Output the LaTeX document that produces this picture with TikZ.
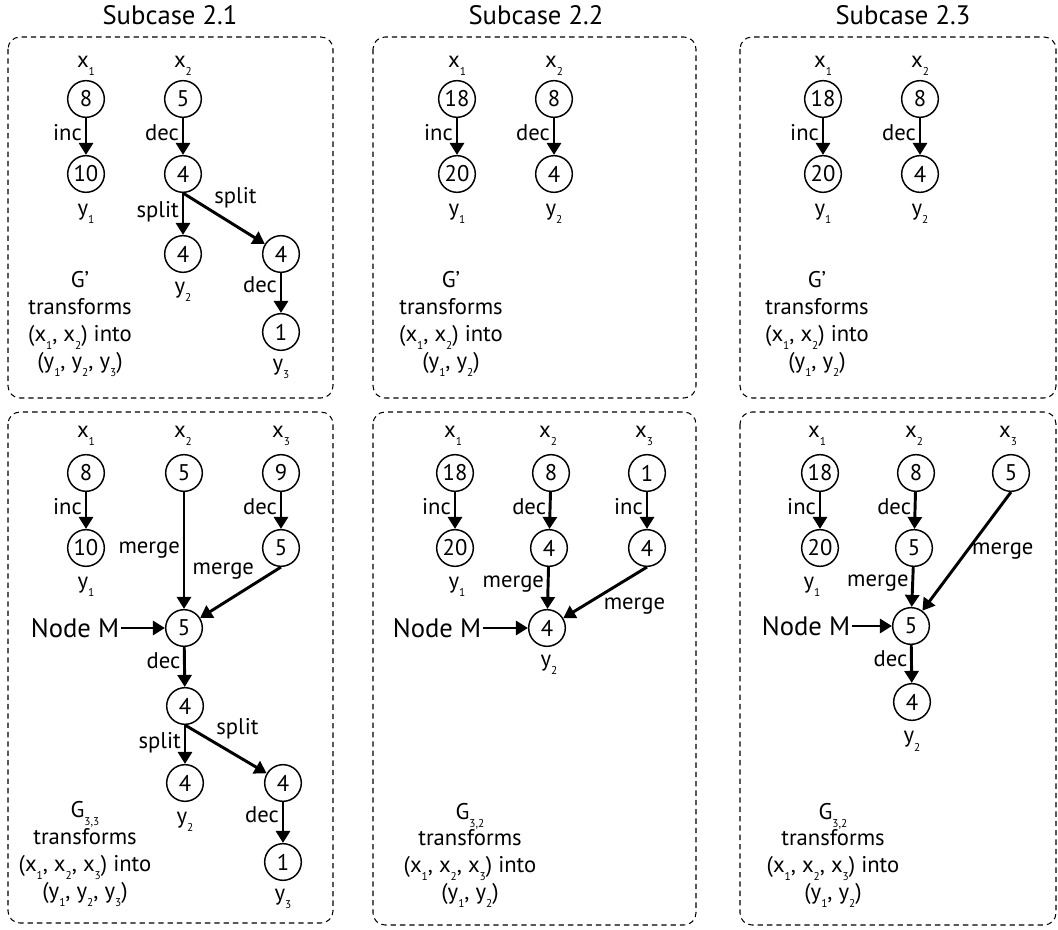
\documentclass[tikz,border=0pt]{standalone}
\usepackage{fontspec}
\setmainfont{PT Sans}
\usetikzlibrary{arrows.meta}
\newcommand\lo[1]{\raisebox{-6pt}{\fontsize{8.5}{9}\selectfont #1}}
\begin{document}
\begin{tikzpicture}[x=0.75pt,y=-0.75pt,
  every node/.style={font=\fontsize{17}{20}\selectfont},
  num/.style={circle,draw,line width=1.1pt,minimum size=27.5pt,inner sep=0pt},
  lab/.style={anchor=base,inner sep=0pt},
  ttl/.style={anchor=base,inner sep=0pt,font=\fontsize{20}{24}\selectfont},
  nm/.style={font=\fontsize{20}{24}\selectfont,inner sep=1pt},
  panel/.style={draw,dash pattern=on 4pt off 3pt,line width=0.8pt,rounded corners=9pt},
  arr/.style={line width=2.2pt,-{Triangle[length=9pt,width=10.5pt]}},
  el/.style={inner sep=2pt}
]
\useasboundingbox (0,0) rectangle (1058,930);

% ---------- titles ----------
\node[ttl] (t1) at (170,25) {Subcase 2.1};
\node[ttl] (t2) at (536,25) {Subcase 2.2};
\node[ttl] (t3) at (903,25) {Subcase 2.3};

% ---------- panel boxes ----------
\draw[panel] (8,37) rectangle (333,398);
\draw[panel] (373,37) rectangle (696,398);
\draw[panel] (740,37) rectangle (1056,398);
\draw[panel] (8,412) rectangle (333,923);
\draw[panel] (373,412) rectangle (696,925);
\draw[panel] (740,412) rectangle (1056,925);

% ================= Panel A (Subcase 2.1, top) =================
\node[lab] (ax1) at (86,68) {x\lo1};
\node[lab] (ax2) at (183,68) {x\lo2};
\node[num] (a1) at (86,99) {8};
\node[num] (a2) at (86,174) {10};
\node[lab] (ay1) at (86,216) {y\lo1};
\node[num] (a3) at (183,99) {5};
\node[num] (a4) at (183,174) {4};
\node[num] (a5) at (183,254) {4};
\node[lab] (ay2) at (183,294) {y\lo2};
\node[num] (a6) at (281,254) {4};
\node[num] (a7) at (281,332) {1};
\node[lab] (ay3) at (281,371) {y\lo3};
\draw[arr] (a1) -- node[el,left,pos=0.4]{inc} (a2);
\draw[arr] (a3) -- node[el,left,pos=0.4]{dec} (a4);
\draw[arr] (a4) -- node[el,left,pos=0.45]{split} (a5);
\draw[arr] (a4.south) -- node[el,above right,pos=0.35,inner sep=1pt]{split} (a6);
\draw[arr] (a6) -- node[el,left,pos=0.3]{dec} (a7);
\node[lab] (ag1) at (80,288) {G’};
\node[lab] (ag2) at (80,315) {transforms};
\node[lab] (ag3) at (80,342) {(x\lo1, x\lo2) into};
\node[lab] (ag4) at (80,369) {(y\lo1, y\lo2, y\lo3)};

% ================= Panel B (Subcase 2.2, top) =================
\node[lab] (bx1) at (457,68) {x\lo1};
\node[lab] (bx2) at (554,68) {x\lo2};
\node[num] (b1) at (457,99) {18};
\node[num] (b2) at (457,174) {20};
\node[lab] (by1) at (457,216) {y\lo1};
\node[num] (b3) at (554,99) {8};
\node[num] (b4) at (554,174) {4};
\node[lab] (by2) at (554,216) {y\lo2};
\draw[arr] (b1) -- node[el,left,pos=0.4]{inc} (b2);
\draw[arr] (b3) -- node[el,left,pos=0.4]{dec} (b4);
\node[lab] (bg1) at (451,288) {G’};
\node[lab] (bg2) at (451,315) {transforms};
\node[lab] (bg3) at (451,342) {(x\lo1, x\lo2) into};
\node[lab] (bg4) at (451,369) {(y\lo1, y\lo2)};

% ================= Panel C (Subcase 2.3, top) =================
\node[lab] (cx1) at (823,68) {x\lo1};
\node[lab] (cx2) at (920,68) {x\lo2};
\node[num] (c1) at (823,99) {18};
\node[num] (c2) at (823,174) {20};
\node[lab] (cy1) at (823,216) {y\lo1};
\node[num] (c3) at (920,99) {8};
\node[num] (c4) at (920,174) {4};
\node[lab] (cy2) at (920,216) {y\lo2};
\draw[arr] (c1) -- node[el,left,pos=0.4]{inc} (c2);
\draw[arr] (c3) -- node[el,left,pos=0.4]{dec} (c4);
\node[lab] (cg1) at (817,288) {G’};
\node[lab] (cg2) at (817,315) {transforms};
\node[lab] (cg3) at (817,342) {(x\lo1, x\lo2) into};
\node[lab] (cg4) at (817,369) {(y\lo1, y\lo2)};

% ================= Panel D (Subcase 2.1, bottom) =================
\node[lab] (dx1) at (86,438) {x\lo1};
\node[lab] (dx2) at (183,438) {x\lo2};
\node[lab] (dx3) at (281,438) {x\lo3};
\node[num] (d1) at (86,473) {8};
\node[num] (d2) at (86,548) {10};
\node[lab] (dy1) at (86,589) {y\lo1};
\node[num] (d3) at (184,473) {5};
\node[num] (d9) at (281,473) {9};
\node[num] (d4) at (281,548) {5};
\node[num] (dM) at (184,628) {5};
\node[nm] (dNM) at (75,628) {Node M};
\node[num] (d5) at (185,706) {4};
\node[num] (d6) at (185,783) {4};
\node[lab] (dy2) at (185,823) {y\lo2};
\node[num] (d7) at (283,783) {4};
\node[num] (d8) at (283,862) {1};
\node[lab] (dy3) at (283,900) {y\lo3};
\draw[arr] (d1) -- node[el,left,pos=0.4]{inc} (d2);
\draw[arr] (d3) -- node[el,left,pos=0.5]{merge} (dM);
\draw[arr] (d9) -- node[el,left,pos=0.4]{dec} (d4);
\draw[arr] (d4.south) -- node[el,above left,pos=0.3,inner sep=1pt]{merge} (dM);
\draw[arr] (dNM) -- (dM);
\draw[arr] (dM) -- node[el,left,pos=0.35]{dec} (d5);
\draw[arr] (d5) -- node[el,left,pos=0.45]{split} (d6);
\draw[arr] (d5.south) -- node[el,above right,pos=0.35,inner sep=1pt]{split} (d7);
\draw[arr] (d7) -- node[el,left,pos=0.3]{dec} (d8);
\node[lab] (dg1) at (85,817) {G\lo{3,3}};
\node[lab] (dg2) at (85,844) {transforms};
\node[lab] (dg3) at (85,871) {(x\lo1, x\lo2, x\lo3) into};
\node[lab] (dg4) at (85,898) {(y\lo1, y\lo2, y\lo3)};

% ================= Panel E (Subcase 2.2, bottom) =================
\node[lab] (ex1) at (453,438) {x\lo1};
\node[lab] (ex2) at (548,438) {x\lo2};
\node[lab] (ex3) at (644,438) {x\lo3};
\node[num] (e1) at (455,473) {18};
\node[num] (e2) at (455,548) {20};
\node[lab] (ey1) at (457,589) {y\lo1};
\node[num] (e3) at (551,473) {8};
\node[num] (e4) at (549,548) {4};
\node[num] (eM) at (547,628) {4};
\node[nm] (eNM) at (437,628) {Node M};
\node[lab] (ey2) at (549,667) {y\lo2};
\node[num] (e5) at (647,473) {1};
\node[num] (e6) at (647,548) {4};
\draw[arr] (e1) -- node[el,left,pos=0.4]{inc} (e2);
\draw[arr] (e3) -- node[el,left,pos=0.4]{dec} (e4);
\draw[arr] (e4) -- node[el,left,pos=0.4]{merge} (eM);
\draw[arr] (e5) -- node[el,left,pos=0.4]{inc} (e6);
\draw[arr] (e6.south) -- node[el,below right,pos=0.55,inner sep=1pt]{merge} (eM);
\draw[arr] (eNM) -- (eM);
\node[lab] (eg1) at (470,819) {G\lo{3,2}};
\node[lab] (eg2) at (470,845) {transforms};
\node[lab] (eg3) at (470,872) {(x\lo1, x\lo2, x\lo3) into};
\node[lab] (eg4) at (470,899) {(y\lo1, y\lo2)};

% ================= Panel F (Subcase 2.3, bottom) =================
\node[lab] (fx1) at (817,438) {x\lo1};
\node[lab] (fx2) at (914,438) {x\lo2};
\node[lab] (fx3) at (1008,438) {x\lo3};
\node[num] (f1) at (820,473) {18};
\node[num] (f2) at (820,548) {20};
\node[lab] (fy1) at (812,589) {y\lo1};
\node[num] (f3) at (916,473) {8};
\node[num] (f4) at (914,548) {5};
\node[num] (fM) at (911,626) {5};
\node[nm] (fNM) at (806,626) {Node M};
\node[num] (f5) at (912,702) {4};
\node[lab] (fy2) at (912,743) {y\lo2};
\node[num] (f6) at (1011,473) {5};
\draw[arr] (f1) -- node[el,left,pos=0.4]{inc} (f2);
\draw[arr] (f3) -- node[el,left,pos=0.4]{dec} (f4);
\draw[arr] (f4) -- node[el,left,pos=0.4]{merge} (fM);
\draw[arr] (f6.south) -- node[el,right,pos=0.5,inner sep=3pt]{merge} (fM);
\draw[arr] (fNM) -- (fM);
\draw[arr] (fM) -- node[el,left,pos=0.35]{dec} (f5);
\node[lab] (fg1) at (833,819) {G\lo{3,2}};
\node[lab] (fg2) at (833,845) {transforms};
\node[lab] (fg3) at (833,872) {(x\lo1, x\lo2, x\lo3) into};
\node[lab] (fg4) at (833,899) {(y\lo1, y\lo2)};
\end{tikzpicture}
\end{document}
